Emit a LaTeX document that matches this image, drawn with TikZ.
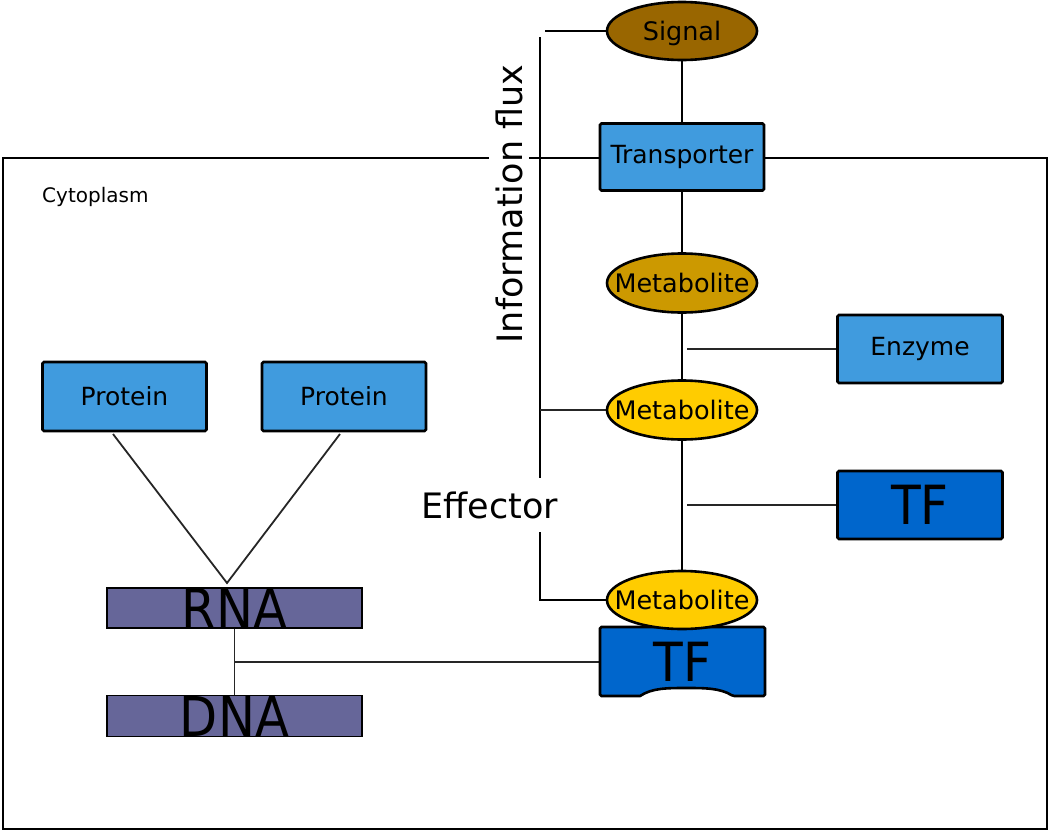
\documentclass[tikz,border=0pt]{standalone}
\usepackage{fontspec}
\setmainfont{DejaVu Sans}
\newfontfamily\condfont[FakeStretch=0.9]{DejaVu Sans}
\usetikzlibrary{shapes.geometric,backgrounds}
\definecolor{signalc}{RGB}{153,102,0}
\definecolor{metaA}{RGB}{204,153,0}
\definecolor{metaB}{RGB}{255,204,0}
\definecolor{lblue}{RGB}{64,155,222}
\definecolor{dblue}{RGB}{0,102,204}
\definecolor{nac}{RGB}{102,102,153}
\newcommand{\elltext}[1]{\smash{\makebox[0pt]{\raisebox{-0.365em}{#1}}}}
\begin{document}
\begin{tikzpicture}[x=1pt,y=-1pt,
  ell/.style={ellipse, draw=black, line width=2.6pt, inner sep=0pt,
    minimum width=150pt, minimum height=59pt, font=\fontsize{25.5}{28}\selectfont},
  bx/.style={rectangle, draw=black, line width=2.6pt, rounded corners=1.5pt, inner sep=0pt,
    fill=lblue, minimum width=164pt, minimum height=68pt, font=\fontsize{25}{28}\selectfont},
  tfbox/.style={bx, fill=dblue, font=\condfont\fontsize{54}{60}\selectfont},
  nabox/.style={rectangle, draw=black, line width=1.8pt, inner sep=0pt, fill=nac,
    minimum width=255pt, minimum height=40pt, font=\condfont\fontsize{55}{60}\selectfont},
  wire/.style={line width=2.5pt, draw=black},
  thinwire/.style={line width=1.8pt, draw=black!85},
  bigtext/.style={fill=white, font=\fontsize{35}{40}\selectfont}]
\useasboundingbox (0,0) rectangle (1050,833);

% nodes
\node[ell, fill=signalc, minimum height=58pt] (sig) at (682,31) {\elltext{Signal}};
\node[bx, minimum height=67pt] (tr) at (682,157) {Transporter};
\node[ell, fill=metaA] (m1) at (682,283) {\elltext{Metabolite}};
\node[bx, minimum width=165pt] (enz) at (920,349) {Enzyme};
\node[ell, fill=metaB] (m2) at (682,410) {\elltext{Metabolite}};
\node[tfbox, minimum width=165pt] (tf1) at (920,505) {TF};

\path[fill=dblue, draw=black, line width=2.6pt, rounded corners=1.5pt]
  (600,627) -- (765,627) -- (765,696) -- (733,696)
  [sharp corners] .. controls (720,688) and (705,688) .. (686,688)
  .. controls (667,688) and (652,688) .. (640,696) [rounded corners=1.5pt] -- (600,696) -- cycle;
\node[inner sep=0pt, minimum width=165pt, minimum height=69pt,
  font=\condfont\fontsize{54}{60}\selectfont] (tf2) at (682.5,662) {TF};
\node[ell, fill=metaB, minimum height=58pt] (m3) at (682,600) {\elltext{Metabolite}};

\node[bx, minimum height=69pt] (p1) at (124.5,396.5) {Protein};
\node[bx, minimum height=69pt] (p2) at (344,396.5) {Protein};
\node[nabox] (rna) at (234.5,608) {RNA};
\node[nabox, minimum height=41pt] (dna) at (234.5,716) {DNA};

\node[anchor=west, inner sep=0pt, font=\fontsize{20}{24}\selectfont] (cyto) at (42,197) {Cytoplasm};
\node[bigtext, inner xsep=2pt, inner ysep=13.5pt] (eff) at (490,505) {Effector};
\node[bigtext, rotate=90, inner xsep=2pt, inner ysep=6pt] (flux) at (509,204) {Information flux};

% free ends
\coordinate (ej) at (687,349);
\coordinate (tj) at (687,505);
\coordinate (bt) at (545,31);
\coordinate (btop) at (540,37);
\coordinate (bmid) at (540,410);
\coordinate (bbot) at (540,600);
\coordinate (apex) at (227,583);
\coordinate (p1b) at (113,434);
\coordinate (p2b) at (340,434);

\begin{scope}[on background layer]
  \draw[line width=2.4pt] (3,158) rectangle (1047,829);
  \draw[wire] (sig) -- (tr);
  \draw[wire] (tr) -- (m1);
  \draw[wire] (m1) -- (m2);
  \draw[wire] (m2) -- (m3);
  \draw[thinwire] (enz.west) -- (ej);
  \draw[thinwire] (tf1.west) -- (tj);
  \draw[wire] (sig.west) -- (bt);
  \draw[wire] (btop) -- (bbot) -- (m3.west);
  \draw[thinwire] (bmid) -- (m2.west);
  \draw[thinwire] (p1b) -- (apex) -- (p2b);
  \draw[thinwire] (rna.south) -- (dna.north);
  \draw[thinwire] (tf2.west -| rna.south) -- (tf2.west);
\end{scope}
\end{tikzpicture}
\end{document}
